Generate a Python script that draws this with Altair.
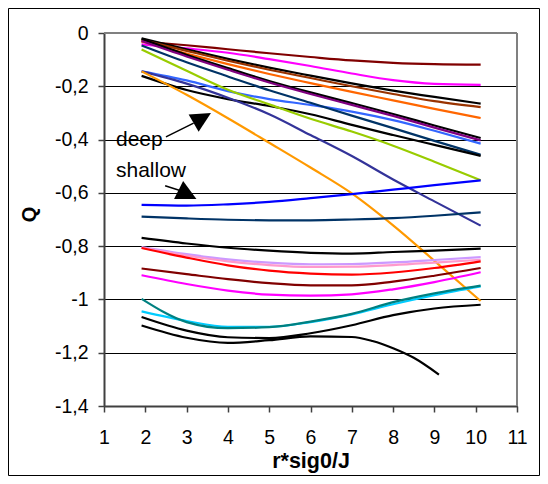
import altair as alt
import pandas as pd

FONT = "Liberation Sans"

# ---------------- data ----------------
x_grid = [1.91, 3, 4, 5, 6, 7, 8, 9, 10.12]

maroon_top   = [-0.032, -0.046, -0.061, -0.076, -0.090, -0.103, -0.112, -0.117, -0.119]
magenta_top  = [-0.043, -0.058, -0.074, -0.098, -0.124, -0.152, -0.177, -0.191, -0.195]
black_top    = [-0.020, -0.061, -0.097, -0.130, -0.160, -0.189, -0.216, -0.240, -0.265]
brown_top    = [-0.026, -0.067, -0.104, -0.138, -0.169, -0.200, -0.229, -0.256, -0.278]
orange_top   = [-0.032, -0.077, -0.117, -0.154, -0.188, -0.221, -0.253, -0.285, -0.319]
black_mid    = [-0.022, -0.082, -0.132, -0.180, -0.223, -0.263, -0.304, -0.347, -0.394]
purple_mid   = [-0.030, -0.088, -0.138, -0.186, -0.229, -0.270, -0.311, -0.355, -0.403]
blue_mid     = [-0.144, -0.178, -0.218, -0.248, -0.270, -0.295, -0.327, -0.367, -0.415]
navy_mid     = [-0.047, -0.110, -0.163, -0.215, -0.262, -0.310, -0.357, -0.405, -0.457]
black_low    = [-0.161, -0.214, -0.248, -0.274, -0.305, -0.345, -0.383, -0.420, -0.461]
green_mid    = [-0.062, -0.142, -0.213, -0.268, -0.322, -0.370, -0.423, -0.483, -0.553]
indigo_mid   = [-0.144, -0.190, -0.243, -0.305, -0.383, -0.462, -0.550, -0.632, -0.723]
orange_steep = [-0.144, -0.232, -0.320, -0.412, -0.505, -0.602, -0.722, -0.855, -1.006]

blue_low     = [-0.645, -0.648, -0.643, -0.634, -0.620, -0.605, -0.588, -0.571, -0.553]
navy_low     = [-0.689, -0.696, -0.701, -0.703, -0.703, -0.700, -0.695, -0.686, -0.673]
black_l1     = [-0.769, -0.790, -0.806, -0.817, -0.825, -0.828, -0.822, -0.817, -0.809]
lavender_low = [-0.803, -0.830, -0.850, -0.862, -0.868, -0.867, -0.861, -0.852, -0.841]
pink_low     = [-0.806, -0.835, -0.857, -0.871, -0.878, -0.877, -0.871, -0.862, -0.851]
red_low      = [-0.807, -0.843, -0.872, -0.892, -0.903, -0.907, -0.899, -0.882, -0.857]
maroon_low   = [-0.884, -0.905, -0.924, -0.939, -0.947, -0.947, -0.933, -0.911, -0.882]
magenta_low  = [-0.909, -0.942, -0.967, -0.982, -0.986, -0.981, -0.962, -0.935, -0.898]
teal_low     = [-0.998, -1.085, -1.108, -1.104, -1.083, -1.054, -1.010, -0.977, -0.948]
cyan_low     = [-1.045, -1.081, -1.103, -1.103, -1.085, -1.056, -1.018, -0.984, -0.951]
black_l2     = [-1.066, -1.117, -1.142, -1.145, -1.127, -1.097, -1.059, -1.034, -1.020]
black_l3_x   = [1.91, 3, 4, 5, 6, 7, 7.5, 8, 8.5, 9.11]
black_l3     = [-1.098, -1.144, -1.163, -1.153, -1.139, -1.141, -1.156, -1.183, -1.219, -1.282]

series_x = [x_grid] * 24 + [black_l3_x]
series_y = [maroon_top, magenta_top, black_top, brown_top, orange_top, black_mid,
            purple_mid, blue_mid, navy_mid, black_low, green_mid, indigo_mid,
            orange_steep, blue_low, navy_low, black_l1, lavender_low, pink_low,
            red_low, maroon_low, magenta_low, cyan_low, teal_low, black_l2, black_l3]
series_colors = ["#800000", "#FF00FF", "#000000", "#993300", "#FF6600", "#000000",
                 "#800080", "#3366FF", "#003366", "#000000", "#99CC00", "#333399",
                 "#FF9900", "#0000FF", "#003366", "#000000", "#CC99FF", "#FF99CC",
                 "#FF0000", "#800000", "#FF00FF", "#00CCFF", "#008080", "#000000", "#000000"]

x_ticks = [1, 2, 3, 4, 5, 6, 7, 8, 9, 10, 11]
y_ticks = [-1.4, -1.2, -1.0, -0.8, -0.6, -0.4, -0.2, 0.0]

note_text = ["deep", "shallow"]
note_x = [1.29, 1.29]
note_y = [-0.423, -0.542]

arrow_x1 = [2.50, 2.48]
arrow_y1 = [-0.390, -0.573]
arrow_x2 = [3.17, 2.82]
arrow_y2 = [-0.3385, -0.590]
head_x = [3.38, 3.022]
head_y = [-0.3193, -0.6064]
head_angle = [330, 27]

# ---------------- tables ----------------
ids = [f"s{i:02d}" for i in range(len(series_y))]
rows = []
for sid, xs, ys in zip(ids, series_x, series_y):
    for xv, yv in zip(xs, ys):
        rows.append({"s": sid, "x": xv, "y": yv})
df = pd.DataFrame(rows)

notes = pd.DataFrame({"t": note_text, "x": note_x, "y": note_y})
arrows = pd.DataFrame({"x": arrow_x1, "y": arrow_y1, "x2": arrow_x2, "y2": arrow_y2})
heads = pd.DataFrame({"x": head_x, "y": head_y, "ha": head_angle})
one = pd.DataFrame({"k": [0]})

W, H = 413, 373
xscale = alt.Scale(domain=[1, 11], nice=False, zero=False)
yscale = alt.Scale(domain=[-1.4, 0], nice=False, zero=False)

xaxis = alt.Axis(values=x_ticks, title="r*sig0/J", grid=False,
                 labelFont=FONT, labelFontSize=19.5, labelColor="black",
                 labelPadding=16, labelFlush=False, labelOverlap=False,
                 tickSize=6, tickColor="#404040", tickWidth=1.5,
                 domainColor="#404040", domainWidth=2,
                 titleFont=FONT, titleFontSize=21.5, titleFontWeight="bold",
                 titleColor="black", titleY=61, titleBaseline="alphabetic")
yaxis = alt.Axis(values=y_ticks, title="Q", grid=True, gridColor="black", gridWidth=1,
                 labelExpr="replace(toString(round(datum.value*10)/10), '.', ',')",
                 labelFont=FONT, labelFontSize=19.5, labelColor="black",
                 labelPadding=10, labelFlush=False, labelOverlap=False,
                 tickSize=6, tickColor="#404040", tickWidth=1.5,
                 domainColor="#404040", domainWidth=2,
                 titleFont=FONT, titleFontSize=20, titleFontWeight="bold",
                 titleColor="black", titleAngle=270, titleX=-75, titleY=181,
                 titleBaseline="middle", titleAlign="center")

X = alt.X("x:Q", scale=xscale, axis=xaxis)
Y = alt.Y("y:Q", scale=yscale, axis=yaxis)

lines = alt.Chart(df).mark_line(strokeWidth=2.2, interpolate="monotone").encode(
    x=X, y=Y,
    color=alt.Color("s:N", scale=alt.Scale(domain=ids, range=series_colors), legend=None),
)

texts = alt.Chart(notes).mark_text(align="left", baseline="alphabetic", font=FONT,
                                   fontSize=21, color="black").encode(
    x=X, y=Y, text="t:N",
)

arrow_lines = alt.Chart(arrows).mark_rule(color="black", strokeWidth=1.5).encode(
    x=X, x2="x2:Q", y=Y, y2="y2:Q",
)

arrow_heads = alt.Chart(heads).mark_point(shape="M1,0L-1,-1L-1,1Z", filled=True,
                                          size=400, color="black", opacity=1).encode(
    x=X, y=Y, angle=alt.Angle("ha:Q", scale=None),
)

frame_top = alt.Chart(one).mark_rule(color="#808080", strokeWidth=2).encode(
    x=alt.value(0), x2=alt.value(W), y=alt.value(0))
frame_right = alt.Chart(one).mark_rule(color="#808080", strokeWidth=2).encode(
    x=alt.value(W), y=alt.value(0), y2=alt.value(H))

border = alt.Chart(one).mark_rect(fillOpacity=0, stroke="black", strokeWidth=1).encode(
    x=alt.value(-95.5), x2=alt.value(435.5), y=alt.value(-24.5), y2=alt.value(442.5))

chart = alt.layer(lines, texts, arrow_lines, arrow_heads, frame_top, frame_right, border).properties(
    width=W, height=H,
    autosize=alt.AutoSizeParams(type="none"),
    padding={"left": 96, "top": 25, "right": 23, "bottom": 70},
    background="white",
).configure_view(stroke="transparent")

chart.save("out.html", embed_options={"renderer": "svg", "actions": False})
